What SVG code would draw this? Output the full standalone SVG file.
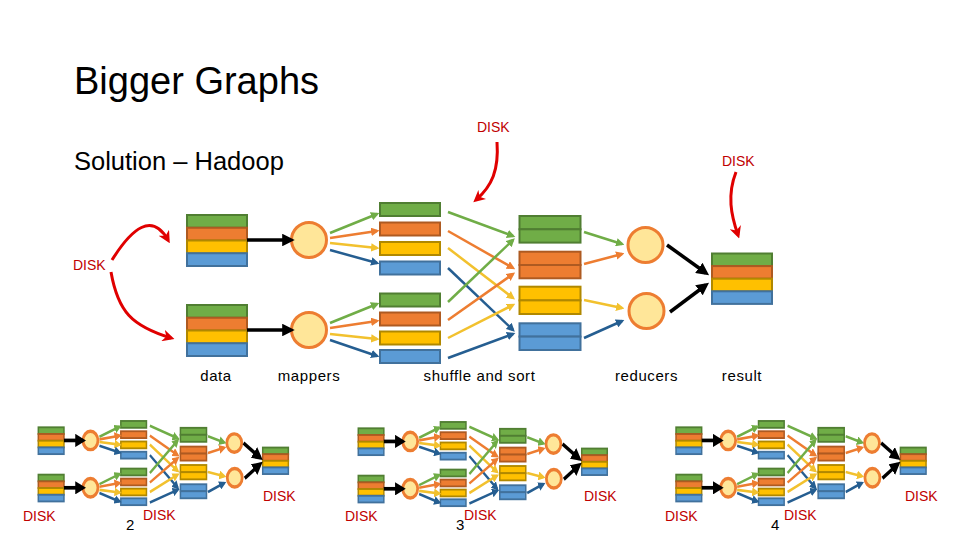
<svg xmlns="http://www.w3.org/2000/svg" xmlns:xlink="http://www.w3.org/1999/xlink" width="960" height="540" viewBox="0 0 960 540">
<defs>
<style>
.g{fill:#70ad47;stroke:#507e32;stroke-width:var(--bw,2)}
.o{fill:#ed7d31;stroke:#ae5a21;stroke-width:var(--bw,2)}
.y{fill:#ffc000;stroke:#b08800;stroke-width:var(--bw,2)}
.b{fill:#5b9bd5;stroke:#41719c;stroke-width:var(--bw,2)}
.c{fill:#ffe699;stroke:#ed7d31;stroke-width:var(--cw,3)}
.ag{stroke:#70ad47;stroke-width:var(--aw,2.5);fill:none;marker-end:url(#mg)}
.ao{stroke:#ed7d31;stroke-width:var(--aw,2.5);fill:none;marker-end:url(#mo)}
.ay{stroke:#f2c12e;stroke-width:var(--aw,2.5);fill:none;marker-end:url(#my)}
.ab{stroke:#255e91;stroke-width:var(--aw,2.5);fill:none;marker-end:url(#mb)}
.ak{stroke:#000;stroke-width:var(--kw,3.5);fill:none;marker-end:url(#mk)}
.ar{stroke:#e00000;stroke-width:3;fill:none;marker-end:url(#mr)}
.mini{--bw:3.5;--cw:6.5;--aw:5;--kw:7}
.t{font-family:"Liberation Sans",Arial,sans-serif;fill:#000}
.disk{font-family:"Liberation Sans",Arial,sans-serif;font-size:14px;fill:#c00000}
.lbl{font-family:"Liberation Sans",Arial,sans-serif;font-size:15px;fill:#000;text-anchor:middle;letter-spacing:0.6px}
</style>
<marker id="mg" viewBox="0 0 10 10" refX="7" refY="5" markerWidth="3.4" markerHeight="3.4" orient="auto"><path d="M0,0 L10,5 L0,10 z" fill="#70ad47"/></marker>
<marker id="mo" viewBox="0 0 10 10" refX="7" refY="5" markerWidth="3.4" markerHeight="3.4" orient="auto"><path d="M0,0 L10,5 L0,10 z" fill="#ed7d31"/></marker>
<marker id="my" viewBox="0 0 10 10" refX="7" refY="5" markerWidth="3.4" markerHeight="3.4" orient="auto"><path d="M0,0 L10,5 L0,10 z" fill="#f2c12e"/></marker>
<marker id="mb" viewBox="0 0 10 10" refX="7" refY="5" markerWidth="3.4" markerHeight="3.4" orient="auto"><path d="M0,0 L10,5 L0,10 z" fill="#255e91"/></marker>
<marker id="mk" viewBox="0 0 10 10" refX="7" refY="5" markerWidth="3.6" markerHeight="3.6" orient="auto"><path d="M0,0 L10,5 L0,10 z" fill="#000"/></marker>
<marker id="mr" viewBox="0 0 10 10" refX="7" refY="5" markerWidth="4" markerHeight="4" orient="auto"><path d="M0,0 L10,5 L0,10 L3,5 z" fill="#e00000"/></marker>
</defs>
<rect width="960" height="540" fill="#fff"/>

<text class="t" x="74" y="94" font-size="38" fill="#262626">Bigger Graphs</text>
<text class="t" x="74" y="170" font-size="25.5">Solution – Hadoop</text>

<g id="pipeline">
  <g id="data1">
    <rect class="g" x="187" y="215" width="60" height="12.75"/>
    <rect class="o" x="187" y="227.75" width="60" height="12.75"/>
    <rect class="y" x="187" y="240.5" width="60" height="12.75"/>
    <rect class="b" x="187" y="253.25" width="60" height="12.75"/>
  </g>
  <g id="data2">
    <rect class="g" x="187" y="305" width="60" height="12.75"/>
    <rect class="o" x="187" y="317.75" width="60" height="12.75"/>
    <rect class="y" x="187" y="330.5" width="60" height="12.75"/>
    <rect class="b" x="187" y="343.25" width="60" height="12.75"/>
  </g>
  <g id="mapper1"><circle class="c" cx="309" cy="240" r="17.5"/></g>
  <g id="mapper2"><circle class="c" cx="309" cy="330" r="17.5"/></g>
  <g id="map-out1">
    <rect class="g" x="380" y="203" width="60" height="13"/>
    <rect class="o" x="380" y="222.5" width="60" height="13"/>
    <rect class="y" x="380" y="242" width="60" height="13"/>
    <rect class="b" x="380" y="261.5" width="60" height="13"/>
  </g>
  <g id="map-out2">
    <rect class="g" x="380" y="293.5" width="60" height="13"/>
    <rect class="o" x="380" y="312.5" width="60" height="13"/>
    <rect class="y" x="380" y="331.5" width="60" height="13"/>
    <rect class="b" x="380" y="350" width="60" height="13"/>
  </g>
  <g id="sorted-green">
    <rect class="g" x="519.5" y="216" width="61" height="13.3"/>
    <rect class="g" x="519.5" y="229.3" width="61" height="13.3"/>
  </g>
  <g id="sorted-orange">
    <rect class="o" x="519.5" y="251.7" width="61" height="13.3"/>
    <rect class="o" x="519.5" y="265" width="61" height="13.3"/>
  </g>
  <g id="sorted-yellow">
    <rect class="y" x="519.5" y="286.7" width="61" height="13.7"/>
    <rect class="y" x="519.5" y="300.4" width="61" height="13.6"/>
  </g>
  <g id="sorted-blue">
    <rect class="b" x="519.5" y="323.3" width="61" height="13.3"/>
    <rect class="b" x="519.5" y="336.6" width="61" height="13.4"/>
  </g>
  <g id="reducer1"><circle class="c" cx="645.5" cy="245" r="17.5"/></g>
  <g id="reducer2"><circle class="c" cx="646.5" cy="311" r="17.5"/></g>
  <g id="result">
    <rect class="g" x="712" y="253.5" width="60" height="12.6"/>
    <rect class="o" x="712" y="266.1" width="60" height="12.6"/>
    <rect class="y" x="712" y="278.7" width="60" height="12.6"/>
    <rect class="b" x="712" y="291.3" width="60" height="12.6"/>
  </g>
  <g id="connectors">
    <path class="ak" d="M247,240 L291,240"/>
    <path class="ak" d="M247,330 L291,330"/>
    <path class="ag" d="M330,233 L377,214"/>
    <path class="ao" d="M330,238 L377,231"/>
    <path class="ay" d="M330,243 L377,248"/>
    <path class="ab" d="M330,250 L377,263"/>
    <path class="ag" d="M330,323 L377,304"/>
    <path class="ao" d="M330,328 L377,321"/>
    <path class="ay" d="M330,334 L377,339"/>
    <path class="ab" d="M330,340 L377,356"/>
    <path class="ag" d="M448,212 L513,236"/>
    <path class="ao" d="M448,231 L513,268"/>
    <path class="ay" d="M448,248 L513,298"/>
    <path class="ab" d="M448,268 L513,330"/>
    <path class="ag" d="M448,302 L513,240"/>
    <path class="ao" d="M448,320 L513,274"/>
    <path class="ay" d="M448,338 L513,305"/>
    <path class="ab" d="M448,358 L513,334"/>
    <path class="ag" d="M584,232 L622,244"/>
    <path class="ao" d="M584,264 L622,254"/>
    <path class="ay" d="M584,300 L622,308"/>
    <path class="ab" d="M584,338 L622,321"/>
    <path class="ak" d="M667,245 L706,273"/>
    <path class="ak" d="M670,312 L706,285"/>
  </g>
</g>

<g id="disk-arrows">
  <path class="ar" d="M112,260 C132,228 152,212 168,240"/>
  <path class="ar" d="M111,272 C118,312 132,326 171,338"/>
  <path class="ar" d="M497,142 C499,170 492,186 476,200"/>
  <path class="ar" d="M736,172 C727,195 731,215 738,235"/>
</g>

<g id="main-labels">
  <text class="disk" x="73" y="270">DISK</text>
  <text class="disk" x="477" y="132">DISK</text>
  <text class="disk" x="722" y="166">DISK</text>
  <text class="lbl" x="216" y="381">data</text>
  <text class="lbl" x="309" y="381">mappers</text>
  <text class="lbl" x="479.5" y="381">shuffle and sort</text>
  <text class="lbl" x="646.5" y="381">reducers</text>
  <text class="lbl" x="742" y="381">result</text>
</g>

<g id="mini1">
  <use class="mini" xlink:href="#pipeline" href="#pipeline" transform="matrix(0.4274,0,0,0.526,-41.6,314.2)"/>
  <text class="disk" x="23" y="521">DISK</text>
  <text class="t" x="126" y="530" font-size="15">2</text>
  <text class="disk" x="143" y="520">DISK</text>
  <text class="disk" x="263" y="501">DISK</text>
</g>
<g id="mini2">
  <use class="mini" xlink:href="#pipeline" href="#pipeline" transform="matrix(0.4256,0,0,0.526,278.7,315.2)"/>
  <text class="disk" x="345" y="521">DISK</text>
  <text class="t" x="456" y="530" font-size="15">3</text>
  <text class="disk" x="464" y="520">DISK</text>
  <text class="disk" x="584" y="501">DISK</text>
</g>
<g id="mini3">
  <use class="mini" xlink:href="#pipeline" href="#pipeline" transform="matrix(0.4274,0,0,0.526,596.1,314.2)"/>
  <text class="disk" x="665" y="521">DISK</text>
  <text class="t" x="771" y="530" font-size="15">4</text>
  <text class="disk" x="784" y="520">DISK</text>
  <text class="disk" x="905" y="501">DISK</text>
</g>
</svg>
